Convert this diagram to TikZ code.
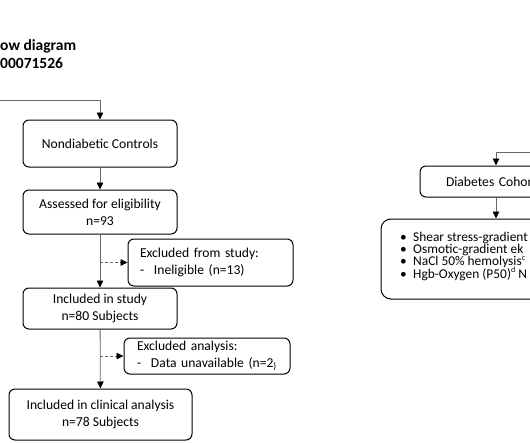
\documentclass[tikz,border=0pt]{standalone}
\usepackage{fontspec}
\setmainfont{Carlito}
\usetikzlibrary{arrows.meta}
\newcommand\mysup[1]{\raisebox{0.9ex}{\fontsize{8}{8}\selectfont #1}}
\begin{document}
\begin{tikzpicture}[x=1pt,y=-1pt,
  box/.style={draw=black, line width=1pt, rounded corners=6pt, align=center,
    font=\fontsize{13.6}{17}\selectfont, inner sep=0pt},
  conn/.style={draw=black!60, line width=0.8pt,
    -{Triangle[length=7pt,width=6.5pt,color=black]}},
  dconn/.style={conn, dash pattern=on 3pt off 2pt},
  title/.style={anchor=base west, inner sep=0pt, font=\bfseries\fontsize{15.5}{18}\selectfont},
  bline/.style={anchor=base west, inner sep=0pt, font=\fontsize{13.4}{14}\selectfont},
]
\useasboundingbox (0,0) rectangle (530,442);
\clip (0,0) rectangle (530,442);

% title
\node[title] (t1) at (0,50) {ow diagram};
\node[title] (t2) at (0,68.5) {00071526};

% left column
\node[box, minimum width=154pt, minimum height=47pt] (nd) at (100,143.5) {Nondiabetic Controls};
\node[box, minimum width=154pt, minimum height=44pt] (as) at (100,212) {Assessed for eligibility\\n=93};
\node[box, minimum width=165pt, minimum height=47pt, align=left, text width=141pt] (ex1) at (210.5,262.5)
  {Excluded from study:\\\makebox[14pt][l]{-}Ineligible (n=13)};
\node[box, minimum width=154pt, minimum height=41pt] (inc) at (100,308.5) {Included in study\\n=80 Subjects};
\node[box, minimum width=166pt, minimum height=36pt, align=left, text width=140pt] (ex2) at (207,356)
  {Excluded analysis:\\\makebox[14pt][l]{-}Data unavailable (n=2\textsubscript{)}};
\node[box, minimum width=183pt, minimum height=51pt] (cl) at (100.5,414.5) {Included in clinical analysis\\n=78 Subjects};

% right column
\node[box, minimum width=152pt, minimum height=31pt, align=left, text width=100pt] (dc) at (496,181.5) {Diabetes Cohort};
\node[box, rounded corners=10pt, minimum width=319pt, minimum height=80pt] (bl) at (540.5,259) {};
\node[bline] (b1) at (400,241.3) {\makebox[13pt][l]{\textbullet}Shear stress-gradient};
\node[bline] (b2) at (400,253.6) {\makebox[13pt][l]{\textbullet}Osmotic-gradient ek};
\node[bline] (b3) at (400,265.9) {\makebox[13pt][l]{\textbullet}NaCl 50\% hemolysis\mysup{c}};
\node[bline] (b4) at (400,278.2) {\makebox[13pt][l]{\textbullet}Hgb-Oxygen (P50)\mysup{d} N};

% connectors
\coordinate (s1) at (0,100);
\draw[conn] (s1) -| (nd.north);
\draw[conn] (nd) -- (as);
\draw[conn] (as) -- (inc);
\coordinate (d1) at (100,262.5);
\draw[dconn] (d1) -- (ex1.west);
\draw[conn] (inc) -- (cl);
\coordinate (d2) at (100,356);
\draw[dconn] (d2) -- (ex2.west);
\coordinate (s2) at (530,152);
\draw[conn] (s2) -| (dc.north);
\draw[conn] (dc.south) -- (dc.south |- bl.north);
\end{tikzpicture}
\end{document}
